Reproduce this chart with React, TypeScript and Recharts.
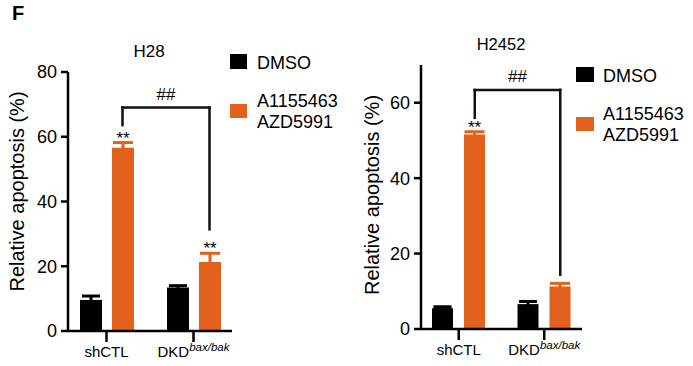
import React from 'react';
import {
  BarChart,
  Bar,
  XAxis,
  YAxis,
  ErrorBar,
  LabelList,
  ReferenceLine,
} from 'recharts';

// values (percent apoptosis)
const categories = ['shCTL', 'DKD'];
const categorySup = ['', 'bax/bak'];

const h28Dmso = [9.6, 13.4];
const h28DmsoErr = [1.2, 0.6];
const h28Combo = [56.6, 21.3];
const h28ComboErr = [1.6, 2.7];
const h28Sig = ['**', '**'];
const h28Bracket = [69, 63.6, 31.4]; // top, left leg end, right leg end

const h2452Dmso = [5.5, 6.6];
const h2452DmsoErr = [0.4, 0.7];
const h2452Combo = [51.6, 11.3];
const h2452ComboErr = [0.7, 0.8];
const h2452Sig = ['**', ''];
const h2452Bracket = [63.4, 56, 14.4];

const h28Ticks = [0, 20, 40, 60, 80];
const h2452Ticks = [0, 20, 40, 60];

const ORANGE = '#E2611C';
const FONT = '"Liberation Sans", Arial, Helvetica, sans-serif';

const buildRows = (dmso: number[], dmsoErr: number[], combo: number[], comboErr: number[], sig: string[]) =>
  categories.map((name, i) => ({
    name,
    dmso: dmso[i],
    dmsoErr: dmsoErr[i],
    combo: combo[i],
    comboErr: comboErr[i],
    sig: sig[i],
  }));

const CategoryTick = (props: any) => {
  const { x, y, payload } = props;
  const i = categories.indexOf(payload.value);
  const sup = categorySup[i];
  return (
    <text x={x} y={y} dy={11} textAnchor="middle" fontSize={15} fill="#000" fontFamily={FONT}>
      {payload.value}
      {sup && (
        <tspan dy={-6} fontSize={11.5} fontStyle="italic">
          {sup}
        </tspan>
      )}
    </text>
  );
};

// bracket pieces sit over the orange bars, so shift them by half a bar + half the gap
const bracketShape = (dx: number, text?: string) => (p: any) => (
  <g>
    <line
      x1={p.x1 + dx}
      y1={p.y1}
      x2={p.x2 + dx}
      y2={p.y2}
      stroke="#111"
      strokeWidth={2.5}
      strokeLinecap="square"
    />
    {text && (
      <text x={(p.x1 + p.x2) / 2 + dx} y={p.y1 - 8} textAnchor="middle" fontSize={17} fill="#000" fontFamily={FONT}>
        {text}
      </text>
    )}
  </g>
);

const sigLabel = (rows: any[]) => (props: any) => {
  const vb = props.viewBox ?? props;
  const { x, y, width, height } = vb;
  const row = rows[props.index];
  if (!row || !row.sig) return null;
  const perUnit = height / row.combo;
  const top = y - row.comboErr * perUnit;
  return (
    <text x={x + width / 2} y={top + 1} textAnchor="middle" fontSize={17} fill="#000" fontFamily={FONT}>
      {row.sig}
    </text>
  );
};

interface PanelProps {
  rows: any[];
  ticks: number[];
  yMax: number;
  bracket: number[];
  width: number;
  height: number;
  margin: { top: number; right: number; bottom: number; left: number };
  yWidth: number;
  barSize: number;
  barGap: number;
  labelDx: number;
  labelDy: number;
}

const Panel: React.FC<PanelProps> = ({ rows, ticks, yMax, bracket, width, height, margin, yWidth, barSize, barGap, labelDx, labelDy }) => {
  const dx = (barSize + barGap) / 2;
  return (
    <BarChart width={width} height={height} data={rows} margin={margin} barGap={barGap}>
      <XAxis
        dataKey="name"
        height={30}
        padding={{ left: -5, right: -5 }}
        axisLine={{ stroke: '#000', strokeWidth: 2.5 }}
        tickLine={{ stroke: '#000', strokeWidth: 2.5 }}
        tickSize={11}
        tickMargin={4}
        tick={<CategoryTick />}
      />
      <YAxis
        width={yWidth}
        domain={[0, yMax]}
        ticks={ticks}
        interval={0}
        axisLine={{ stroke: '#000', strokeWidth: 2.5 }}
        tickLine={{ stroke: '#000', strokeWidth: 2.5 }}
        tickSize={7}
        tickMargin={4}
        tick={{ fill: '#000', fontSize: 18, fontFamily: FONT }}
        label={{
          value: 'Relative apoptosis (%)',
          angle: -90,
          position: 'center',
          dx: labelDx,
          dy: labelDy,
          fill: '#000',
          fontSize: 20,
          fontFamily: FONT,
        }}
      />
      <Bar dataKey="dmso" fill="#000" barSize={barSize} isAnimationActive={false}>
        <ErrorBar dataKey="dmsoErr" width={9} stroke="#000" strokeWidth={3} />
      </Bar>
      <Bar dataKey="combo" fill={ORANGE} barSize={barSize} isAnimationActive={false}>
        <ErrorBar dataKey="comboErr" width={10} stroke={ORANGE} strokeWidth={3} />
        <LabelList dataKey="sig" content={sigLabel(rows)} />
      </Bar>
      <ReferenceLine
        segment={[{ x: categories[0], y: bracket[0] }, { x: categories[1], y: bracket[0] }]}
        shape={bracketShape(dx, '##')}
      />
      <ReferenceLine
        segment={[{ x: categories[0], y: bracket[0] }, { x: categories[0], y: bracket[1] }]}
        shape={bracketShape(dx)}
      />
      <ReferenceLine
        segment={[{ x: categories[1], y: bracket[0] }, { x: categories[1], y: bracket[2] }]}
        shape={bracketShape(dx)}
      />
    </BarChart>
  );
};

const LegendBox: React.FC<{ x: number; y: number; w: number; h: number }> = ({ x, y, w, h }) => (
  <g fontFamily={FONT} fontSize={18} fill="#000">
    <rect x={x} y={y} width={w} height={h + 1} fill="#000" />
    <text x={x + 27} y={y + 14.5}>DMSO</text>
    <rect x={x} y={y + 50} width={w} height={h} fill={ORANGE} />
    <text x={x + 27} y={y + 53}>A1155463</text>
    <text x={x + 27} y={y + 74}>AZD5991</text>
  </g>
);

const App: React.FC = () => {
  const h28Rows = buildRows(h28Dmso, h28DmsoErr, h28Combo, h28ComboErr, h28Sig);
  const h2452Rows = buildRows(h2452Dmso, h2452DmsoErr, h2452Combo, h2452ComboErr, h2452Sig);
  return (
    <div style={{ position: 'absolute', left: 0, top: 0, width: 693, height: 366, background: '#fff', fontFamily: FONT }}>
      <div style={{ position: 'absolute', left: 0, top: 0 }}>
        <Panel
          rows={h28Rows}
          ticks={h28Ticks}
          yMax={80}
          bracket={h28Bracket}
          width={340}
          height={366}
          margin={{ top: 72, right: 108, bottom: 5, left: 0 }}
          yWidth={68}
          barSize={22}
          barGap={10}
          labelDx={-17}
          labelDy={-10}
        />
      </div>
      <div style={{ position: 'absolute', left: 341, top: 0 }}>
        <Panel
          rows={h2452Rows}
          ticks={h2452Ticks}
          yMax={70}
          bracket={h2452Bracket}
          width={352}
          height={366}
          margin={{ top: 65, right: 111, bottom: 7, left: 0 }}
          yWidth={80}
          barSize={21}
          barGap={11}
          labelDx={-9}
          labelDy={-2}
        />
      </div>
      <svg width={693} height={366} style={{ position: 'absolute', left: 0, top: 0, pointerEvents: 'none' }}>
        <text x={12} y={20} fontSize={20} fontWeight="bold" fontFamily={FONT} fill="#000">F</text>
        <text x={149} y={57} fontSize={17} textAnchor="middle" fontFamily={FONT} fill="#000">H28</text>
        <text x={501} y={50} fontSize={16.5} textAnchor="middle" fontFamily={FONT} fill="#000">H2452</text>
        <LegendBox x={230} y={54} w={17} h={14} />
        <LegendBox x={576} y={67} w={18} h={14} />
      </svg>
    </div>
  );
};

export default App;
